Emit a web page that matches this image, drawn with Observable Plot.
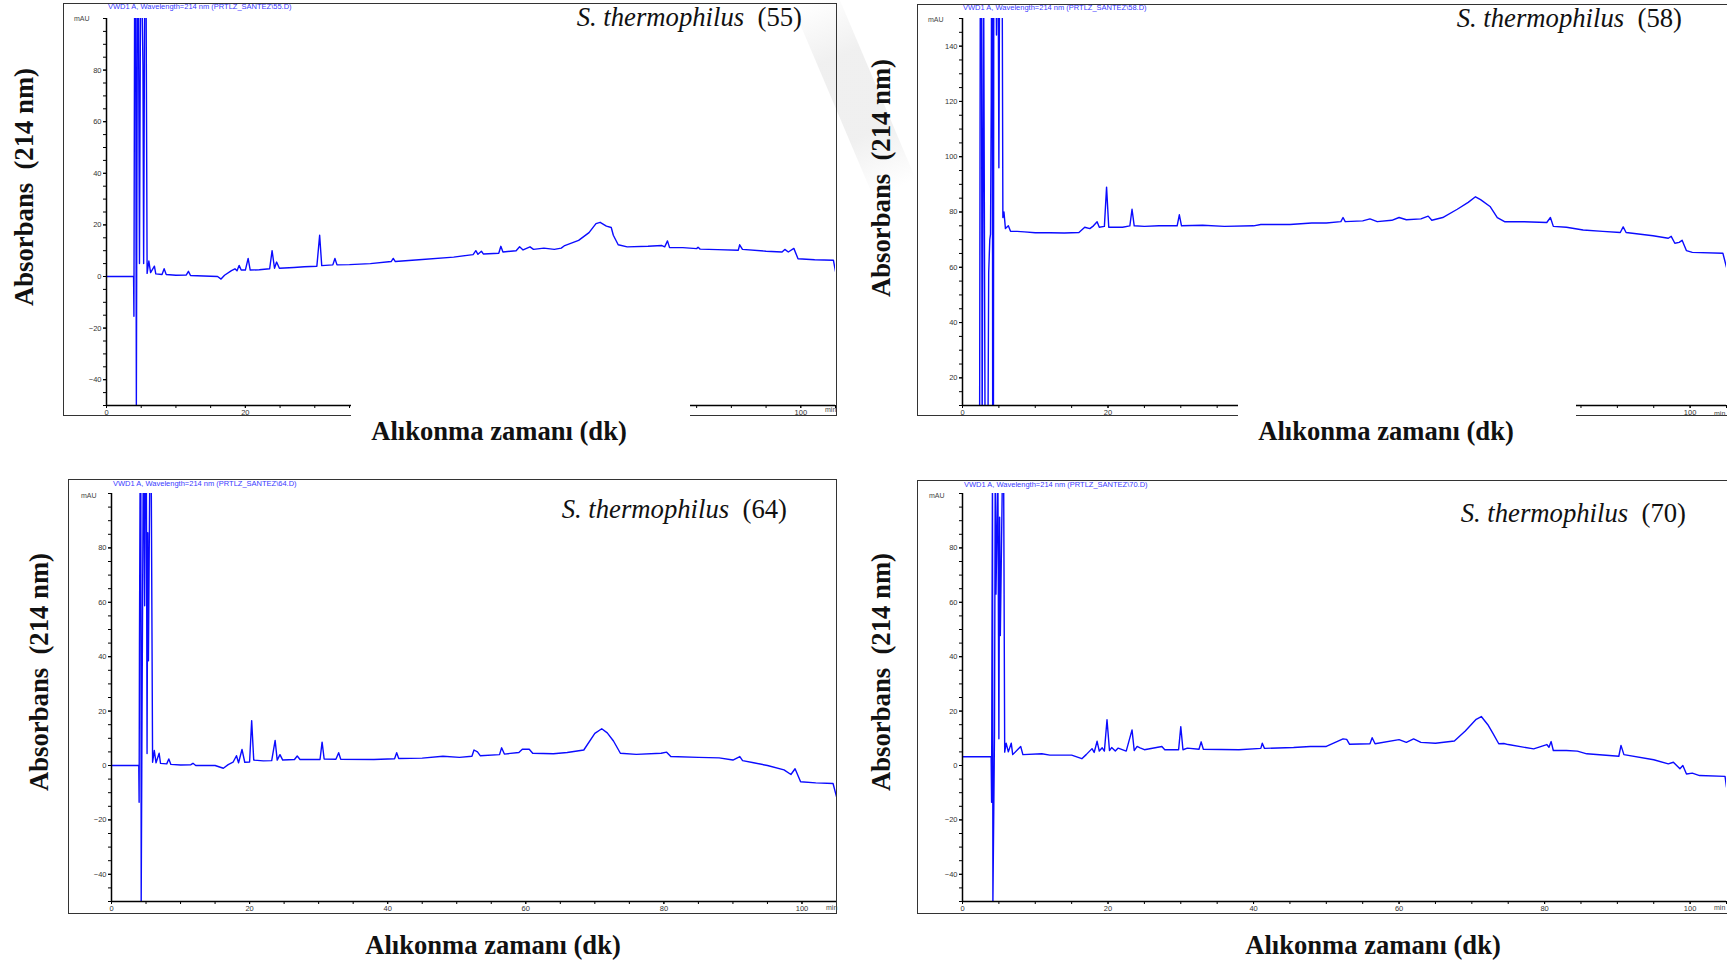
<!DOCTYPE html>
<html>
<head>
<meta charset="utf-8">
<script src="https://cdn.jsdelivr.net/npm/d3@7"></script>
<script src="https://cdn.jsdelivr.net/npm/@observablehq/plot@0.6"></script>
<style>
  body { margin: 0; background: #fff; width: 1727px; height: 963px; overflow: hidden; position: relative;
         font-family: "Liberation Serif", "Times New Roman", serif; }
  .box { position: absolute; border: 1.4px solid #333; box-sizing: border-box; pointer-events: none; }
  .hdr { position: absolute; font: 7.5px "Liberation Sans", Arial, sans-serif; color: #3a3aff; white-space: nowrap; }
  .unit { position: absolute; font: 7px "Liberation Sans", Arial, sans-serif; color: #444; white-space: nowrap; }
  .species { position: absolute; font-size: 26.7px; white-space: nowrap; transform: translate(-100%, -50%); color: #111; }
  .xt { position: absolute; font-weight: bold; font-size: 26.6px; white-space: nowrap; transform: translate(-50%, -50%); color: #111; }
  .yt { position: absolute; font-weight: bold; font-size: 26.7px; white-space: nowrap; transform: translate(-50%, -50%) rotate(-90deg); color: #111; }
  .cover { position: absolute; background: #fff; }
  .wm { position: absolute; background: linear-gradient(90deg, rgba(240,240,240,0), rgba(236,236,236,0.8) 30%, rgba(236,236,236,0.8) 70%, rgba(240,240,240,0)); transform-origin: 0 0; }
</style>
</head>
<body>
<script>
// Retention time axis (min) shared by all four runs
const timeDomain = [0, 105];
const timeLabels = [0, 20, 40, 60, 80, 100];
const timeMinor = d3.range(0, 106, 5);

// Absorbance tick labels (mAU)
const absLabelsLow = [-40, -20, 0, 20, 40, 60, 80];
const absLabelsHigh = [20, 40, 60, 80, 100, 120, 140];

// Chromatogram traces: [retention time (min), absorbance (mAU)]
const trace55 = [
  [0, 0], [3.9, 0], [3.95, -15.4], [4.05, 110], [4.2, 110], [4.3, -50], [4.45, 110], [4.6, 110],
  [4.75, 5], [4.9, 110], [5.1, 110], [5.25, 82], [5.35, 5], [5.5, 110], [5.7, 110], [5.85, 1.2],
  [6.1, 6], [6.35, 1.5], [6.9, 4], [7.1, 1], [8.0, 0.8], [8.3, 3], [8.6, 0.8], [10, 0.5], [11.5, 0.6],
  [11.8, 2], [12.1, 0.4], [14, 0.2], [16, 0], [16.5, -1], [17, 0.5], [18, 2.3], [18.5, 3], [18.8, 2.2],
  [19.1, 4.3], [19.4, 2.5], [20, 2.5], [20.4, 7], [20.7, 2.5], [22, 2.6], [23.5, 3], [23.85, 10],
  [24.2, 3.2], [24.5, 5.6], [24.9, 3.2], [27, 3.5], [28.5, 3.8], [30.3, 4], [30.7, 16], [31, 4.2],
  [32.6, 4.5], [32.9, 7], [33.2, 4.5], [35, 4.6], [38, 5], [41, 5.8], [41.3, 7], [41.6, 5.8], [45, 6.5],
  [50, 7.5], [52.8, 8.5], [53.2, 10], [53.5, 8.6], [54, 9.8], [54.3, 8.7], [56.5, 9], [56.8, 11.7],
  [57.1, 9.5], [59, 10], [59.5, 11.5], [60, 10.3], [61, 11.5], [61.5, 10.5], [63, 11], [64.5, 10.5],
  [65.5, 11], [66, 12], [68, 14], [69.5, 17], [70.5, 20.5], [71.1, 21], [72, 19.5], [72.7, 19],
  [73, 16], [73.7, 12.3], [75, 11.5], [78, 11.7], [80, 12], [80.4, 11.5], [80.8, 13.8], [81.1, 11.2],
  [83, 11.2], [85, 10.8], [85.2, 11.3], [85.5, 10.6], [88, 10.4], [91, 10.2], [91.2, 12.3], [91.6, 10.5],
  [95, 9.8], [97.3, 9.5], [97.7, 10.5], [98.2, 9.5], [99, 10.9], [99.6, 6.9], [102, 6.5], [104.7, 6.3],
  [105, 2]
];

const trace58 = [
  [0, 0], [2.35, 0], [2.45, 170], [2.6, 170], [2.7, 0], [2.9, 170], [3.1, 0], [3.5, 0], [3.6, 58],
  [3.75, 70], [3.85, 72], [3.95, 120], [4.0, 170], [4.1, 170], [4.15, 0], [4.25, 0], [4.3, 170],
  [4.6, 170], [4.67, 144], [4.75, 170], [4.9, 170], [5.0, 96], [5.1, 170], [5.45, 170], [5.55, 78],
  [5.7, 80], [5.9, 74], [6.3, 75], [6.6, 73], [7.5, 73], [8.5, 72.8], [10, 72.5], [12, 72.5],
  [14, 72.4], [16, 72.6], [16.8, 74.5], [17.5, 74], [18, 75], [18.5, 76.5], [18.8, 74.5], [19.5, 74.8],
  [19.8, 89], [20.1, 74.5], [22, 74.5], [23, 75], [23.3, 81], [23.6, 75], [25, 74.8], [27, 75],
  [29.5, 75], [29.8, 79], [30.1, 75], [33, 75.2], [36, 74.8], [40, 75], [41, 75.5], [45, 75.5],
  [48, 76], [50, 76], [52, 76.5], [52.3, 78], [52.6, 76.5], [55, 76.8], [56, 77.5], [57, 76.5],
  [59, 77], [60, 78], [61, 77.2], [63, 77.5], [64, 78.5], [64.5, 77], [66, 78], [68, 81], [69.5, 83.5],
  [70.5, 85.5], [71.2, 84.5], [72.5, 82], [73.5, 78], [74.5, 76.5], [77, 76.5], [80.3, 76.2],
  [80.8, 78], [81.2, 74.8], [83, 74.5], [85.3, 73.5], [88, 73], [90.4, 72.6], [90.8, 74.6], [91.2, 72.6],
  [94.9, 71.4], [97, 70.5], [97.4, 71.2], [97.9, 68.7], [98.5, 69], [98.9, 69.8], [99.5, 66],
  [100.3, 65.4], [104.5, 65.1], [105, 60]
];

const trace64 = [
  [0, 0], [3.95, 0], [4.0, -13.5], [4.05, 44.8], [4.15, 110], [4.25, 110], [4.3, -50], [4.4, 6.7],
  [4.6, 110], [4.7, 110], [4.8, 58.7], [4.9, 110], [5.05, 110], [5.15, 4.4], [5.25, 85.6], [5.35, 38.5],
  [5.55, 110], [5.75, 110], [5.95, 1.2], [6.2, 5.5], [6.45, 1], [6.9, 4.5], [7.1, 0.8], [8.0, 0.6],
  [8.3, 2.4], [8.6, 0.4], [10, 0.2], [11.5, 0.3], [11.8, 0.8], [12.2, 0], [15, 0], [16.2, -1],
  [16.9, 0.3], [17.6, 1.2], [18.1, 3.6], [18.4, 1], [18.9, 5.9], [19.3, 1.2], [20, 1.3], [20.3, 16.5],
  [20.6, 2], [22, 1.7], [23.2, 1.8], [23.7, 9.2], [24, 2], [24.4, 4], [24.8, 2], [26.5, 2.2],
  [26.9, 3.5], [27.3, 2.2], [30.2, 2.2], [30.5, 8.6], [30.8, 2.4], [32.5, 2.3], [32.9, 4.7],
  [33.2, 2.3], [38, 2.2], [41, 2.5], [41.3, 4.7], [41.6, 2.6], [45, 2.7], [48, 3.4], [50.4, 3],
  [52.2, 3.4], [52.5, 5.7], [53, 5], [53.4, 3.6], [56.2, 4], [56.5, 6.5], [56.9, 4.2], [59, 4.8],
  [59.5, 6], [60.5, 6], [61, 4.5], [64, 4.3], [66, 4.8], [68.4, 5.7], [70, 11.8], [71, 13.5],
  [71.8, 12], [72.7, 9], [73.7, 4.5], [76, 4.1], [79.6, 4.5], [80.4, 4.9], [81, 3.3], [85, 3],
  [88, 2.8], [90, 2], [91, 3.3], [91.4, 1.8], [93, 1], [95, 0], [97.4, -1.6], [98.4, -3.3], [99, -1.2],
  [99.8, -6], [102, -6.4], [104.5, -6.6], [105, -11.4]
];

const trace70 = [
  [0, 3.2], [3.94, 3.2], [4.0, -13.5], [4.05, 45], [4.12, 110], [4.18, -50], [4.4, 12.2], [4.5, 110],
  [4.6, 63], [4.86, 110], [5.0, 9.8], [5.1, 91.3], [5.2, 47.8], [5.5, 110], [5.65, 110], [5.8, 4.9],
  [6.0, 8.2], [6.3, 5], [6.7, 8.2], [6.9, 4], [8.0, 7], [8.3, 4], [10.9, 4.3], [12, 3.8], [15, 3.8],
  [16.4, 2.5], [17, 4], [17.8, 6.2], [18.1, 4.8], [18.5, 8.9], [18.8, 5.3], [19.2, 6.5], [19.5, 5.3],
  [19.86, 16.8], [20.2, 5.5], [20.5, 6.6], [21, 5.3], [21.4, 6.4], [22.5, 5.3], [23.3, 13.1],
  [23.6, 5.5], [24, 7], [24.4, 6.5], [25, 5.8], [27.4, 7], [27.8, 5.8], [29.7, 5.8], [30, 14.3],
  [30.3, 5.8], [30.9, 6.4], [32.5, 6], [32.8, 8.7], [33.1, 6], [38, 5.8], [41, 6.3], [41.2, 8.2],
  [41.5, 6.3], [45.5, 6.6], [47.8, 7], [50, 7], [52.3, 9.8], [52.8, 9.6], [53.2, 7.8], [56, 8],
  [56.3, 10.2], [56.7, 8], [60, 9.5], [61, 8.5], [62, 9.8], [63, 8.5], [65, 8.2], [67.6, 9], [69.1, 12.7],
  [70.6, 17], [71.3, 18], [72.2, 15], [72.9, 11.8], [73.7, 8], [74.4, 8.1], [75, 7.7], [78.5, 6.1],
  [80.3, 7.7], [80.6, 6.7], [80.9, 8.8], [81.2, 5.5], [83, 5.5], [84.5, 5.3], [85.8, 4.3], [90.2, 3.4],
  [90.5, 7.4], [90.9, 4], [95, 2.1], [97, 0.6], [97.7, 1.2], [98.6, -1.2], [99, 0], [99.5, -3.1],
  [100.3, -2.8], [101.3, -3.7], [104.8, -4], [105, -8]
];

// One chromatogram with detector-style axes: a solid axis line, minor ticks every 5 units
function chromatogram({ trace, absDomain, absLabels, width, height, margins }) {
  return Plot.plot({
    width, height,
    marginLeft: margins[0], marginRight: margins[1], marginTop: margins[2], marginBottom: margins[3],
    x: { domain: timeDomain, label: null },
    y: { domain: absDomain, label: null },
    style: { fontFamily: "'Liberation Sans', Arial, sans-serif", fontSize: "7.5px", color: "#333",
             background: "transparent", overflow: "visible" },
    marks: [
      Plot.line(trace, { x: d => d[0], y: d => d[1], stroke: "#0b0bff", strokeWidth: 1.4, clip: true }),
      Plot.ruleX([0], { stroke: "#000", strokeWidth: 1.5 }),
      Plot.ruleY([absDomain[0]], { stroke: "#000", strokeWidth: 1.5 }),
      Plot.axisY({ ticks: d3.range(absDomain[0], absDomain[1] + 0.1, 5), tickSize: 3, tickFormat: () => "", stroke: "#000" }),
      Plot.axisY({ ticks: absLabels, tickSize: 3, tickPadding: 2, stroke: "#000", fill: "#333" }),
      Plot.axisX({ ticks: timeMinor, tickSize: 3, tickFormat: () => "", stroke: "#000" }),
      Plot.axisX({ ticks: timeLabels, tickSize: 3, tickPadding: 1, stroke: "#000", fill: "#333" })
    ]
  });
}

const panels = [
  { id: "55", trace: trace55, absDomain: [-50, 100], absLabels: absLabelsLow,
    box: [63, 3, 774, 413], margins: [43, 2, 15, 11],
    hdr: [108, 2], mau: [74, 15], min: [825, 406],
    species: [802, 17], xt: [499, 431], yt: [24, 187], cover: [351, 398, 339, 22] },
  { id: "58", trace: trace58, absDomain: [10, 150], absLabels: absLabelsHigh,
    box: [917, 4, 812, 412], margins: [45, 3, 14, 11],
    hdr: [963, 3], mau: [928, 16], min: [1714, 410],
    species: [1682, 18], xt: [1386, 431], yt: [881, 178], cover: [1238, 398, 338, 22] },
  { id: "64", trace: trace64, absDomain: [-50, 100], absLabels: absLabelsLow,
    box: [68, 479, 769, 435], margins: [43, 1, 14, 13],
    hdr: [113, 479], mau: [81, 492], min: [826, 904],
    species: [787, 509], xt: [493, 945], yt: [39, 672], cover: null },
  { id: "70", trace: trace70, absDomain: [-50, 100], absLabels: absLabelsLow,
    box: [917, 480, 812, 434], margins: [45, 3, 13, 13],
    hdr: [964, 480], mau: [929, 492], min: [1714, 904],
    species: [1686, 513], xt: [1373, 945], yt: [881, 672], cover: null }
];

function place(el, x, y) { el.style.left = x + "px"; el.style.top = y + "px"; document.body.appendChild(el); return el; }
function div(cls, html) { const d = document.createElement("div"); d.className = cls; d.innerHTML = html; return d; }

// faint diagonal watermark stroke between the upper panels
const wm = div("wm", "");
wm.style.width = "205px"; wm.style.height = "46px"; wm.style.transform = "rotate(67deg)";
place(wm, 836, -9);

for (const p of panels) {
  const svg = chromatogram({ trace: p.trace, absDomain: p.absDomain, absLabels: p.absLabels,
                             width: p.box[2], height: p.box[3], margins: p.margins });
  svg.style.position = "absolute";
  svg.style.left = p.box[0] + "px";
  svg.style.top = p.box[1] + "px";
  document.body.appendChild(svg);

  const b = div("box", "");
  b.style.width = p.box[2] + "px"; b.style.height = p.box[3] + "px";
  place(b, p.box[0], p.box[1]);

  place(div("hdr", "VWD1 A, Wavelength=214 nm (PRTLZ_SANTEZ\\" + p.id + ".D)"), p.hdr[0], p.hdr[1]);
  place(div("unit", "mAU"), p.mau[0], p.mau[1]);
  place(div("unit", "min"), p.min[0], p.min[1]);
  place(div("species", "<i>S. thermophilus</i>&nbsp; (" + p.id + ")"), p.species[0], p.species[1]);

  if (p.cover) {
    const c = div("cover", "");
    c.style.width = p.cover[2] + "px"; c.style.height = p.cover[3] + "px";
    place(c, p.cover[0], p.cover[1]);
  }
  place(div("xt", "Alıkonma zamanı (dk)"), p.xt[0], p.xt[1]);
  place(div("yt", "Absorbans&nbsp; (214 nm)"), p.yt[0], p.yt[1]);
}
</script>
</body>
</html>
